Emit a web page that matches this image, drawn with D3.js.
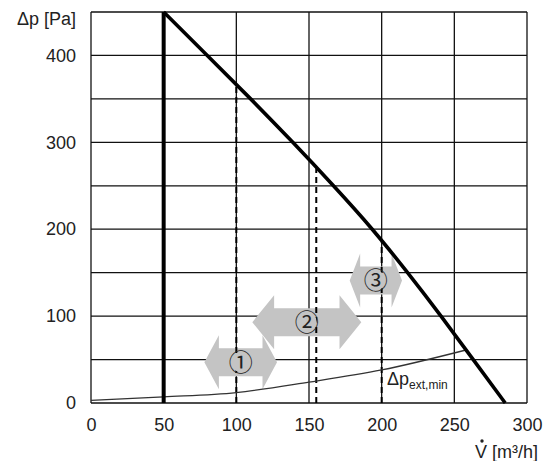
<!DOCTYPE html>
<html>
<head>
<meta charset="utf-8">
<script src="https://cdn.jsdelivr.net/npm/d3@7/dist/d3.min.js"></script>
<style>
body { margin: 0; background: #fff; }
svg text { font-family: "Liberation Sans", Arial, sans-serif; fill: #222; }
</style>
</head>
<body>
<svg id="chart" width="549" height="461"></svg>
<script>
// fan curve (thick)
var fanV = [50, 80, 110, 139, 167, 194, 218, 241, 263, 285];
var fanP = [450, 400, 350, 300, 250, 200, 150, 100, 50, 0];

// minimum external pressure curve (thin)
var minV = [0, 50, 100, 150, 200, 258];
var minP = [3, 7, 12, 24, 38, 61];

// dashed operating points
var opV = [100, 155, 200];
var opP = [367, 270, 185];

// arrow ranges
var arrowLabels = ["\u2460", "\u2461", "\u2462"];
var arrowFrom = [78, 111, 178];
var arrowTo = [128, 186, 214];
var arrowP = [47, 93, 141];

var xTicks = [0, 50, 100, 150, 200, 250, 300];
var yTicks = [0, 100, 200, 300, 400];
var gridX = [0, 50, 100, 150, 200, 250, 300];
var gridY = [0, 50, 100, 150, 200, 250, 300, 350, 400, 450];

var svg = d3.select("#chart");
var x = d3.scaleLinear().domain([0, 300]).range([91, 527]);
var y = d3.scaleLinear().domain([0, 450]).range([403, 12]);

// grid
svg.append("g").selectAll("line").data(gridX).enter().append("line")
	.attr("x1", function(d){ return x(d); }).attr("x2", function(d){ return x(d); })
	.attr("y1", y(0)).attr("y2", y(450))
	.attr("stroke", "#111").attr("stroke-width", 1.3);
svg.append("g").selectAll("line").data(gridY).enter().append("line")
	.attr("y1", function(d){ return y(d); }).attr("y2", function(d){ return y(d); })
	.attr("x1", x(0)).attr("x2", x(300))
	.attr("stroke", "#111").attr("stroke-width", 1.3);

// tick labels
var xAxis = svg.append("g").attr("transform", "translate(0," + y(0) + ")")
	.call(d3.axisBottom(x).tickValues(xTicks).tickSize(0).tickPadding(15));
var yAxis = svg.append("g").attr("transform", "translate(" + x(0) + ",0)")
	.call(d3.axisLeft(y).tickValues(yTicks).tickSize(0).tickPadding(15));
[xAxis, yAxis].forEach(function(a){
	a.select(".domain").remove();
	a.selectAll("text").style("font-size", "18px").attr("fill", "#222")
		.style("font-family", "Liberation Sans, Arial, sans-serif");
});

// arrows
var arrows = svg.append("g").selectAll("g").data(arrowLabels).enter().append("g");
arrows.append("path")
	.attr("fill", "#c4c4c4")
	.attr("d", function(d, i){
		var x0 = x(arrowFrom[i]), x1 = x(arrowTo[i]), cy = y(arrowP[i]);
		var L = (x1 - x0) * 0.2, H = 27, S = 14;
		return "M" + x0 + "," + cy +
			"L" + (x0 + L) + "," + (cy - H) +
			"L" + (x0 + L) + "," + (cy - S) +
			"L" + (x1 - L) + "," + (cy - S) +
			"L" + (x1 - L) + "," + (cy - H) +
			"L" + x1 + "," + cy +
			"L" + (x1 - L) + "," + (cy + H) +
			"L" + (x1 - L) + "," + (cy + S) +
			"L" + (x0 + L) + "," + (cy + S) +
			"L" + (x0 + L) + "," + (cy + H) + "Z";
	});

// dashed lines
svg.append("g").selectAll("line").data(opV).enter().append("line")
	.attr("x1", function(d){ return x(d); }).attr("x2", function(d){ return x(d); })
	.attr("y1", y(0)).attr("y2", function(d, i){ return y(opP[i]); })
	.attr("stroke", "#000").attr("stroke-width", 2).attr("stroke-dasharray", "6,4");

// circled numbers sit on a grey disc that hides the dashed line
var nums = svg.append("g").selectAll("g").data(arrowLabels).enter().append("g")
	.attr("transform", function(d, i){
		return "translate(" + x((arrowFrom[i] + arrowTo[i]) / 2) + "," + y(arrowP[i]) + ")";
	});
nums.append("circle").attr("r", 10).attr("fill", "#c4c4c4");
nums.append("text")
	.attr("dy", "0.36em")
	.attr("text-anchor", "middle")
	.style("font-family", "Noto Sans CJK JP, DejaVu Sans, sans-serif")
	.style("font-size", "24px")
	.attr("fill", "#333")
	.text(function(d){ return d; });

// thin min curve
var line = d3.line().x(function(d){ return x(d[0]); }).y(function(d){ return y(d[1]); })
	.curve(d3.curveMonotoneX);
svg.append("path").datum(d3.zip(minV, minP))
	.attr("d", line).attr("fill", "none").attr("stroke", "#333").attr("stroke-width", 1.3);

// thick vertical at 50
svg.append("line").attr("x1", x(50)).attr("x2", x(50)).attr("y1", y(0)).attr("y2", y(450))
	.attr("stroke", "#000").attr("stroke-width", 4);

// fan curve
var smooth = d3.line().x(function(d){ return x(d[0]); }).y(function(d){ return y(d[1]); })
	.curve(d3.curveBasis);
svg.append("path").datum(d3.zip(fanV, fanP))
	.attr("d", smooth).attr("fill", "none").attr("stroke", "#000").attr("stroke-width", 3.6);

// labels
svg.append("text").attr("x", 76).attr("y", 25).attr("text-anchor", "end")
	.style("font-size", "18px").text("\u0394p [Pa]");

svg.append("text").attr("x", 538).attr("y", 458).attr("text-anchor", "end")
	.style("font-size", "18px").text("V [m\u00b3/h]");
svg.append("circle").attr("cx", 482).attr("cy", 441).attr("r", 1.7).attr("fill", "#222");

var ann = svg.append("text").attr("x", x(203.7)).attr("y", y(20.7)).style("font-size", "18px");
ann.append("tspan").text("\u0394p");
ann.append("tspan").attr("dy", 4).style("font-size", "12px").text("ext,min");
</script>
</body>
</html>
